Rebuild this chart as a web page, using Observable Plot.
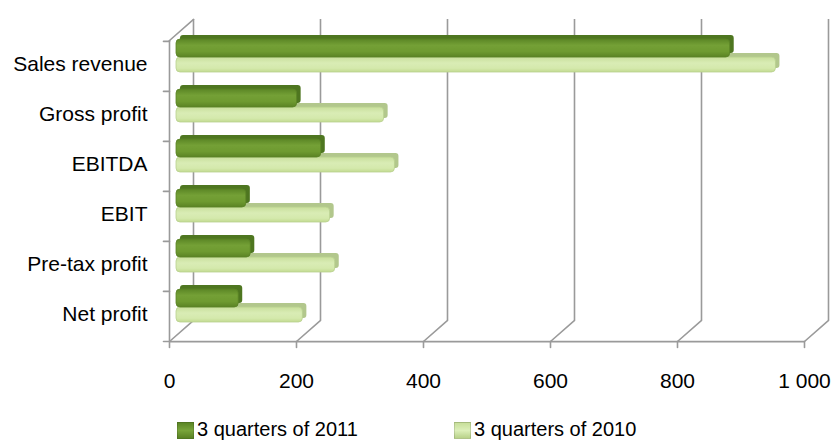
<!DOCTYPE html>
<html>
<head>
<meta charset="utf-8">
<script src="https://cdn.jsdelivr.net/npm/d3@7"></script>
<script src="https://cdn.jsdelivr.net/npm/@observablehq/plot@0.6"></script>
<style>
  html, body { margin: 0; padding: 0; background: #fff; }
  #wrap { position: relative; width: 838px; height: 441px; overflow: hidden; font-family: "Liberation Sans", Arial, sans-serif; }
  #chart { position: absolute; left: 0; top: 0; }
  .lg-item { position: absolute; top: 419px; height: 21px; line-height: 21px; font-size: 20px; color: #000; white-space: nowrap; }
  .lg-sw { position: absolute; top: 3px; width: 17px; height: 17px; }
</style>
</head>
<body>
<div id="wrap"><div id="chart"></div></div>
<script>
// ---- data ----
const categories = ["Sales revenue", "Gross profit", "EBITDA", "EBIT", "Pre-tax profit", "Net profit"];
const seriesNames = ["3 quarters of 2011", "3 quarters of 2010"];
const values2011 = [872, 190, 228, 110, 117, 98];
const values2010 = [944, 327, 344, 242, 250, 199];
const xTicks = [0, 200, 400, 600, 800, 1000];

const rows = categories.map((c, i) => ({category: c, v2011: values2011[i], v2010: values2010[i]}));

// ---- styles ----
const gridColor = "#9a9a9a";
const depthAngle = 48.8;   // 3D floor depth direction
const depthLen = 32;
const line = {draw(ctx, l) { ctx.moveTo(0, 0); ctx.lineTo(0, -l); }};
const fmt = d3.formatLocale({decimal: ".", thousands: "\u00a0", grouping: [3], currency: ["", ""]}).format(",");

const plot = Plot.plot({
  width: 838,
  height: 400,
  marginLeft: 169,
  marginRight: 34,
  marginTop: 40,
  marginBottom: 59,
  x: {domain: [0, 1000], label: null},
  y: {domain: categories, padding: 0, label: null},
  style: {fontFamily: "'Liberation Sans', Arial, sans-serif", fontSize: "21px", color: "#000", background: "transparent", overflow: "visible"},
  marks: [
    // back wall gridlines
    Plot.ruleX(xTicks, {x: d => d, dx: 24, dy: -21, stroke: gridColor, strokeWidth: 1.6}),
    // floor depth lines
    Plot.vector(xTicks, {x: d => d, frameAnchor: "bottom", anchor: "start", length: depthLen, rotate: depthAngle, shape: line, stroke: gridColor, strokeWidth: 1.6}),
    // left wall top edge
    Plot.vector([0], {x: d => d, frameAnchor: "top", anchor: "start", length: depthLen, rotate: depthAngle, shape: line, stroke: gridColor, strokeWidth: 1.6}),
    // left front axis line
    Plot.ruleX([0], {x: d => d, stroke: gridColor, strokeWidth: 1.6}),
    // front bottom axis line
    Plot.link([0], {x1: () => 0, x2: () => 1000, y1: () => categories[categories.length - 1], y2: () => categories[categories.length - 1], dy: 301 / 12, stroke: gridColor, strokeWidth: 1.6}),
    // x tick marks
    Plot.vector(xTicks, {x: d => d, frameAnchor: "bottom", anchor: "start", length: 6, rotate: 180, shape: line, stroke: gridColor, strokeWidth: 1.6}),
    // y tick marks at category boundaries
    Plot.vector(categories, {x: () => 0, y: d => d, dy: -301 / 12, anchor: "start", length: 6, rotate: 270, shape: line, stroke: gridColor, strokeWidth: 1.6}),
    Plot.vector([0], {x: d => d, frameAnchor: "bottom", anchor: "start", length: 6, rotate: 270, shape: line, stroke: gridColor, strokeWidth: 1.6}),

    // 2010 bars (light) : top face then front face
    Plot.barX(rows, {x: "v2010", y: "category", insetTop: 18, insetBottom: 17, dx: 11, dy: -6, fill: "#b2c78c", rx: 3}),
    Plot.barX(rows, {x: "v2010", y: "category", insetTop: 18, insetBottom: 17, dx: 7, dy: -2, fill: "url(#g2010)", stroke: "#b9d08f", strokeWidth: 0.8, rx: 4}),
    // 2011 bars (dark)
    Plot.barX(rows, {x: "v2011", y: "category", insetTop: 0, insetBottom: 32, dx: 11, dy: -6, fill: "#4e7620", rx: 3}),
    Plot.barX(rows, {x: "v2011", y: "category", insetTop: 0, insetBottom: 32, dx: 7, dy: -2, fill: "url(#g2011)", stroke: "#5b8426", strokeWidth: 0.8, rx: 4}),

    // axes text
    Plot.axisY({tickSize: 0, tickPadding: 22, dy: -2, fontSize: 21, fill: "#000", label: null}),
    Plot.axisX(xTicks, {tickSize: 0, tickPadding: 32, tickFormat: fmt, fontSize: 21, fill: "#000", label: null})
  ]
});

// gradient definitions
const defs = d3.select(plot).insert("defs", ":first-child");
function grad(id, stops) {
  const g = defs.append("linearGradient").attr("id", id).attr("x1", 0).attr("y1", 0).attr("x2", 0).attr("y2", 1);
  stops.forEach(([o, c]) => g.append("stop").attr("offset", o).attr("stop-color", c));
}
grad("g2011", [[0, "#5b8625"], [0.35, "#74a036"], [0.7, "#6e9a30"], [1, "#5a8224"]]);
grad("g2010", [[0, "#c8df9b"], [0.4, "#d9ecb5"], [0.75, "#d4e9ac"], [1, "#c2da90"]]);

document.getElementById("chart").appendChild(plot);

// legend
const wrap = document.getElementById("wrap");
const legendSpec = [
  {name: seriesNames[0], left: 177, sw: "linear-gradient(#5b8625, #78a43a 50%, #5a8224)"},
  {name: seriesNames[1], left: 454, sw: "linear-gradient(#c8df9b, #dcefb9 50%, #b9d28a)"}
];
legendSpec.forEach(s => {
  const item = document.createElement("div");
  item.className = "lg-item";
  item.style.left = s.left + "px";
  item.style.paddingLeft = "20px";
  const sw = document.createElement("div");
  sw.className = "lg-sw";
  sw.style.left = "0px";
  sw.style.background = s.sw;
  sw.style.border = "1px solid rgba(0,0,0,0.12)";
  sw.style.boxSizing = "border-box";
  item.appendChild(sw);
  item.appendChild(document.createTextNode(s.name));
  wrap.appendChild(item);
});
</script>
</body>
</html>
